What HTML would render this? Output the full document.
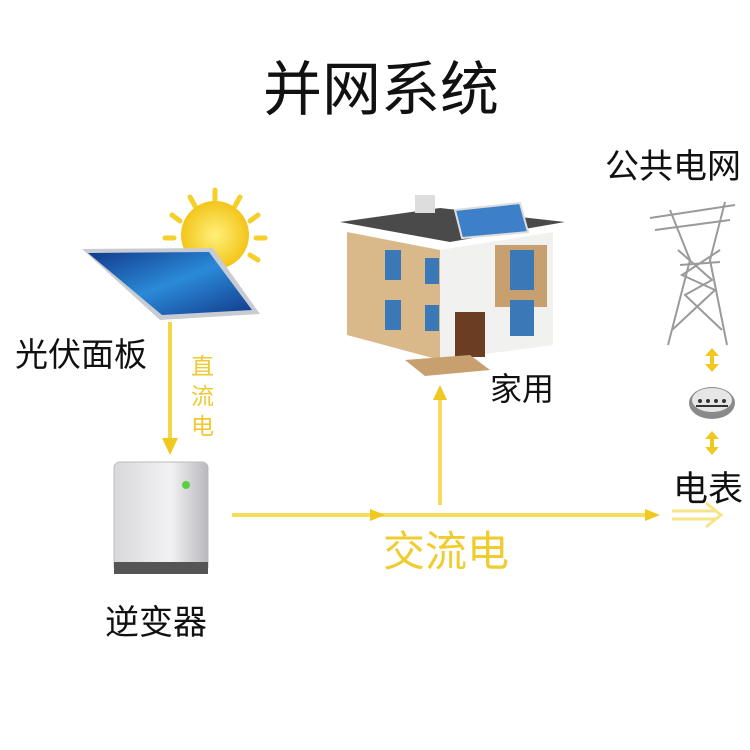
<!DOCTYPE html>
<html><head><meta charset="utf-8"><style>
body{margin:0;background:#fff}
svg{display:block}
text{font-family:"Liberation Sans","Noto Sans CJK SC",sans-serif}
</style></head><body>
<svg width="750" height="750" viewBox="0 0 750 750">
<defs>
<linearGradient id="pg" x1="0" y1="0" x2="1" y2="1"><stop offset="0" stop-color="#123a8a"/><stop offset="0.5" stop-color="#2a8ad8"/><stop offset="1" stop-color="#123a8a"/></linearGradient>
<linearGradient id="ig" x1="0" y1="0" x2="1" y2="0"><stop offset="0" stop-color="#d8d8dc"/><stop offset="0.6" stop-color="#f2f2f4"/><stop offset="1" stop-color="#b8b8be"/></linearGradient>
<radialGradient id="sg"><stop offset="0" stop-color="#fff07a"/><stop offset="1" stop-color="#f3c51a"/></radialGradient>
</defs>
<text x="381" y="110" font-size="59" text-anchor="middle" fill="#111">并网系统</text>
<!-- sun -->
<g stroke="#f5cf2a" stroke-width="5" stroke-linecap="round">
<line x1="215" y1="190" x2="215" y2="200"/><line x1="240" y1="197" x2="235" y2="206"/><line x1="258" y1="215" x2="250" y2="221"/>
<line x1="265" y1="238" x2="256" y2="238"/><line x1="258" y1="260" x2="250" y2="255"/><line x1="190" y1="197" x2="195" y2="206"/>
<line x1="172" y1="215" x2="180" y2="221"/><line x1="165" y1="238" x2="174" y2="238"/>
</g>
<circle cx="215" cy="235" r="34" fill="url(#sg)"/>
<!-- panel -->
<polygon points="82,249 213,248 260,314 160,320" fill="#c8ccd2"/>
<polygon points="88,253 209,252 252,310 162,315" fill="url(#pg)"/>
<text x="15" y="366" font-size="33" fill="#111">光伏面板</text>
<!-- DC arrow -->
<line x1="170" y1="322" x2="170" y2="448" stroke="#f5d54a" stroke-width="4"/>
<polygon points="162,438 178,438 170,455" fill="#f0c820"/>
<g font-size="23" fill="#f0c830"><text x="191" y="374">直</text><text x="191" y="404">流</text><text x="191" y="434">电</text></g>
<!-- inverter -->
<rect x="114" y="462" width="94" height="110" rx="6" fill="url(#ig)" stroke="#bbb"/>
<rect x="114" y="562" width="94" height="12" fill="#555"/>
<circle cx="186" cy="485" r="4" fill="#5ccf40"/>
<text x="105" y="634" font-size="34" fill="#111">逆变器</text>
<!-- AC line -->
<line x1="232" y1="515" x2="655" y2="515" stroke="#f5dc5a" stroke-width="4"/>
<polygon points="370,509 385,515 370,521" fill="#f0c820"/>
<polygon points="645,509 660,515 645,521" fill="#f0c820"/>
<line x1="672" y1="511" x2="716" y2="511" stroke="#f7e48a" stroke-width="3"/>
<line x1="672" y1="519" x2="716" y2="519" stroke="#f7e48a" stroke-width="3"/>
<polyline points="706,503 721,515 706,527" fill="none" stroke="#f7e48a" stroke-width="3"/>
<text x="383" y="566" font-size="42" fill="#f0cc30">交流电</text>
<!-- up arrow -->
<line x1="440" y1="505" x2="440" y2="392" stroke="#f5dc5a" stroke-width="4"/>
<polygon points="433,400 447,400 440,385" fill="#f0c820"/>
<!-- house -->
<polygon points="340,222 440,208 565,222 450,242" fill="#4a4a4a"/>
<rect x="415" y="195" width="20" height="18" fill="#ddd"/>
<polygon points="455,210 520,203 528,232 462,238" fill="#3d7fc8" stroke="#ddd" stroke-width="2"/>
<polygon points="347,232 440,250 440,360 347,335" fill="#d9b88a"/>
<polygon points="440,250 553,232 553,345 440,360" fill="#f1f1ef"/>
<rect x="495" y="245" width="52" height="62" fill="#c8a070"/>
<rect x="385" y="250" width="16" height="30" fill="#3a78b8"/><rect x="385" y="300" width="16" height="30" fill="#3a78b8"/>
<rect x="425" y="258" width="14" height="26" fill="#3a78b8"/><rect x="425" y="305" width="14" height="26" fill="#3a78b8"/>
<rect x="510" y="250" width="24" height="40" fill="#3a78b8"/><rect x="510" y="300" width="24" height="36" fill="#3a78b8"/>
<rect x="455" y="312" width="30" height="45" fill="#6b3d22"/>
<polygon points="405,360 470,355 490,370 425,376" fill="#c8a070"/>
<text x="490" y="400" font-size="32" fill="#111">家用</text>
<!-- grid -->
<text x="605" y="178" font-size="34" fill="#111">公共电网</text>
<g stroke="#9a9a9a" stroke-width="2" fill="none">
<line x1="650" y1="218" x2="735" y2="205"/><line x1="655" y1="230" x2="730" y2="220"/>
<polyline points="670,210 690,260 668,345"/><polyline points="725,202 710,260 727,345"/>
<line x1="680" y1="265" x2="720" y2="262"/>
<polyline points="672,330 715,290 682,275 720,250"/><polyline points="722,330 685,295 712,280 678,250"/>
</g>
<g fill="#f0c820">
<rect x="710" y="353" width="4" height="14"/><polygon points="705,356 719,356 712,348"/><polygon points="705,364 719,364 712,372"/>
<rect x="710" y="436" width="4" height="14"/><polygon points="705,439 719,439 712,431"/><polygon points="705,447 719,447 712,455"/>
</g>
<ellipse cx="712" cy="403" rx="23" ry="16" fill="#8a8a8a"/><ellipse cx="712" cy="400" rx="20" ry="12" fill="#e6e6e6"/>
<line x1="696" y1="406" x2="728" y2="406" stroke="#333" stroke-width="2"/>
<g fill="#333"><circle cx="700" cy="401" r="2"/><circle cx="708" cy="401" r="2"/><circle cx="716" cy="401" r="2"/><circle cx="724" cy="401" r="2"/></g>
<text x="673" y="501" font-size="35" fill="#111">电表</text>
</svg>
</body></html>
